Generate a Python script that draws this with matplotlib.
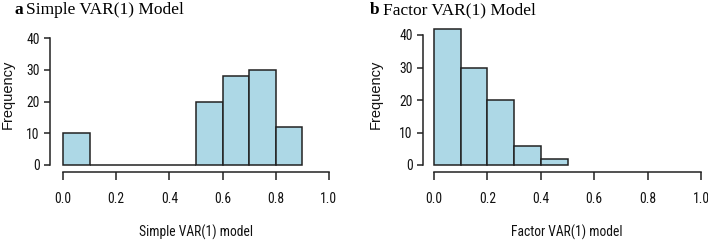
import matplotlib
matplotlib.use("Agg")
import matplotlib.pyplot as plt
from matplotlib import font_manager
import numpy as np

bin_edges = [0.0, 0.1, 0.2, 0.3, 0.4, 0.5, 0.6, 0.7, 0.8, 0.9]
simple_counts = [10, 0, 0, 0, 0, 20, 28, 30, 12]
factor_edges = [0.0, 0.1, 0.2, 0.3, 0.4, 0.5]
factor_counts = [42, 30, 20, 6, 2]
xticks = [0.0, 0.2, 0.4, 0.6, 0.8, 1.0]
yticks = [0, 10, 20, 30, 40]
titles = [("a", "Simple VAR(1) Model"), ("b", "Factor VAR(1) Model")]
xlabels = ["Simple VAR(1) model", "Factor VAR(1) model"]

names = {f.name for f in font_manager.fontManager.ttflist}
cands = ['Liberation Sans Narrow', 'Arial Narrow', 'Roboto Condensed', 'PT Sans Narrow',
         'Archivo Narrow', 'Fira Sans Condensed', 'Encode Sans Condensed']
narrow = next((c for c in cands if c in names), None)
if narrow:
    FP = dict(family=[narrow, 'DejaVu Sans'])
else:
    FP = dict(family=['DejaVu Sans'], stretch='condensed')

W, H = 708, 242
fig = plt.figure(figsize=(W / 100, H / 100), dpi=100)
FS = 9.8
TXT = '#111111'

def make_panel(x_zero, x_one, y_zero, y_forty, ymax, edges, counts, spine_x, spine_y):
    sx = (x_one - x_zero) / 1.0
    sy = (y_zero - y_forty) / 40.0
    xlo, xhi = -0.04, 1.04
    ylo, yhi = -0.04 * ymax, 1.04 * ymax
    left = x_zero + xlo * sx
    right = x_zero + xhi * sx
    bottom = y_zero - ylo * sy
    top = y_zero - yhi * sy
    ax = fig.add_axes([left / W, 1 - bottom / H, (right - left) / W, (bottom - top) / H])
    ax.set_xlim(xlo, xhi)
    ax.set_ylim(ylo, yhi)
    widths = np.diff(edges)
    ax.bar(edges[:-1], counts, width=widths, align='edge', color='#ADD8E6',
           edgecolor='#222222', linewidth=1.1)
    for s in ['top', 'right']:
        ax.spines[s].set_visible(False)
    ax.spines['left'].set_bounds(0, 40)
    ax.spines['bottom'].set_bounds(0, 1)
    ax.spines['left'].set_position(('outward', max(0, (left - spine_x)) * 0.72))
    ax.spines['bottom'].set_position(('outward', max(0, (spine_y - bottom)) * 0.72))
    for s in ['left', 'bottom']:
        ax.spines[s].set_linewidth(1.1)
        ax.spines[s].set_color('#222222')
    ax.set_xticks(xticks)
    ax.set_xticklabels([f"{t:.1f}" for t in xticks], fontsize=FS, color=TXT, **FP)
    ax.set_yticks(yticks)
    ax.set_yticklabels([str(t) for t in yticks], fontsize=FS, color=TXT, **FP)
    ax.tick_params(axis='x', length=5.5, width=1.1, pad=9, color='#222222')
    ax.tick_params(axis='y', length=4.5, width=1.1, pad=3, color='#222222')
    return ax

axA = make_panel(63, 329, 165, 38, 40, bin_edges, simple_counts, 50, 172)
axB = make_panel(434, 701, 165, 35, 42, factor_edges, factor_counts, 424, 172)

# y labels
for xc in [8, 376]:
    fig.text(xc / W, 1 - 94 / H, "Frequency", rotation=90, ha='center', va='center',
             fontsize=10.5, family=['Liberation Sans', 'DejaVu Sans'], color=TXT)
# x labels
fig.text(196 / W, 1 - 232 / H, xlabels[0], ha='center', va='center', fontsize=FS, color=TXT, **FP)
fig.text(567 / W, 1 - 232 / H, xlabels[1], ha='center', va='center', fontsize=FS, color=TXT, **FP)

# titles
fig.canvas.draw()
renderer = fig.canvas.get_renderer()
for (letter, rest), tx in zip(titles, [14, 370]):
    t1 = fig.text(tx / W, 1 - 14 / H, letter, fontweight='bold', fontsize=12.5,
                  family='Liberation Serif', ha='left', va='baseline')
    bb = t1.get_window_extent(renderer)
    fig.text((bb.x1 + 3.5) / W, 1 - 14 / H, rest, fontsize=12.5,
             family='Liberation Serif', ha='left', va='baseline')

fig.savefig("out.png", dpi=100)
